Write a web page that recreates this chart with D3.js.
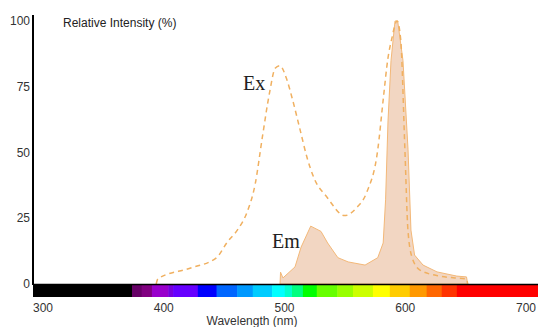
<!DOCTYPE html>
<html lang="en">
	<head>
		<meta charset="utf-8">
		<title>Spectrum</title>
		<script type="text/javascript" src="https://cdn.jsdelivr.net/npm/d3@7"></script>
		<style type="text/css">
			body { margin: 0; background: #fff; }
			text { font-family: "Liberation Sans", Arial, sans-serif; }
		</style>
	</head>
	<body>
		<script type="text/javascript">

		// excitation spectrum (dashed)
		var exWave = [402, 403.5, 430, 452, 461, 470, 477, 484, 490, 496, 500.5, 504.5, 510, 515, 521, 527, 533, 543.5, 558, 568, 576.5, 585.5, 590, 594, 597, 601.5, 604.5, 608, 610.5, 614, 620.5, 637, 649.5, 659, 660];
		var exValue = [0, 2, 6, 10, 16, 21, 27, 38, 56, 73, 82, 83, 78, 70, 59, 48, 40, 33, 26, 29, 35, 51, 70, 86, 93, 100, 93, 51, 20.5, 10, 5.3, 3, 2.3, 1.9, 0];

		// emission spectrum (filled)
		var emWave = [504.6, 505, 507, 517, 522, 530, 538.5, 544, 552.5, 561, 575, 585.5, 590, 592, 594, 596.5, 599.8, 602, 606.4, 610.6, 613, 616, 623, 634.6, 651, 659, 660];
		var emValue = [0, 4.5, 2.3, 6.5, 14, 22, 20, 15.6, 10, 8.4, 7.2, 10, 15.6, 32, 62, 85, 100, 100, 85, 51, 20.5, 11, 7.2, 4.6, 3, 2.7, 0];

		// visible colour bar: band start (nm) and colour
		var bandStart = [300, 382, 390, 398.5, 412, 416, 436.5, 452, 469, 482, 498, 508.5, 514.5, 523.5, 535, 552, 565, 581.5, 595.5, 612, 626, 638.5, 651];
		var bandColor = ["#000000", "#660066", "#800080", "#9900cc", "#7700dd", "#6600ff", "#0000ff", "#0066ff", "#0099ff", "#00ccff", "#00ffff", "#00ffcc", "#00ff80", "#00ff00", "#66ff00", "#99ff00", "#ccff00", "#ffff00", "#ffcc00", "#ff9900", "#ff6600", "#ff3300", "#ff0000"];

		var xTicks = [300, 400, 500, 600, 700];
		var yTicks = [0, 25, 50, 75, 100];

		var w = 538;
		var h = 327;

		var x = d3.scaleLinear().domain([300, 700]).range([33, 516]);
		var y = d3.scaleLinear().domain([0, 100]).range([284, 21]);

		var svg = d3.select("body")
					.append("svg")
					.attr("width", w)
					.attr("height", h);

		// colour bar
		var bands = bandStart.map(function(s, i) {
			return { start: s, end: i < bandStart.length - 1 ? bandStart[i + 1] : x.invert(w), color: bandColor[i] };
		});
		svg.selectAll("rect.band")
			.data(bands)
			.enter()
			.append("rect")
			.attr("class", "band")
			.attr("x", function(d) { return x(d.start); })
			.attr("width", function(d) { return x(d.end) - x(d.start) + 0.5; })
			.attr("y", 285)
			.attr("height", 12)
			.attr("fill", function(d) { return d.color; });

		// emission area
		var em = emWave.map(function(d, i) { return [d, emValue[i]]; });
		var area = d3.area()
					.x(function(d) { return x(d[0]); })
					.y0(y(0))
					.y1(function(d) { return y(d[1]); });
		svg.append("path")
			.datum(em)
			.attr("d", area)
			.attr("fill", "#f2d6c2")
			.attr("stroke", "#f3b878")
			.attr("stroke-width", 1);

		// excitation line
		var ex = exWave.map(function(d, i) { return [d, exValue[i]]; });
		var line = d3.line()
					.x(function(d) { return x(d[0]); })
					.y(function(d) { return y(d[1]); })
					.curve(d3.curveMonotoneX);
		svg.append("path")
			.datum(ex)
			.attr("d", line)
			.attr("fill", "none")
			.attr("stroke", "#f0b060")
			.attr("stroke-width", 1.5)
			.attr("stroke-dasharray", "5,4");

		// axes lines
		svg.append("line")
			.attr("x1", 33).attr("x2", w)
			.attr("y1", 284.5).attr("y2", 284.5)
			.attr("stroke", "#000").attr("stroke-width", 1.5);
		svg.append("line")
			.attr("x1", 33).attr("x2", 33)
			.attr("y1", 15).attr("y2", 285)
			.attr("stroke", "#000").attr("stroke-width", 2);

		// tick labels
		svg.selectAll("text.xt")
			.data(xTicks)
			.enter()
			.append("text")
			.attr("class", "xt")
			.attr("x", function(d) { return x(d); })
			.attr("y", 312)
			.attr("font-size", 12)
			.attr("fill", "#333")
			.text(function(d) { return d; });

		svg.selectAll("text.yt")
			.data(yTicks)
			.enter()
			.append("text")
			.attr("class", "yt")
			.attr("x", 30)
			.attr("y", function(d) { return y(d) + 4; })
			.attr("text-anchor", "end")
			.attr("font-size", 12)
			.attr("fill", "#333")
			.text(function(d) { return d; });

		svg.append("text")
			.attr("x", 63).attr("y", 27)
			.attr("font-size", 12)
			.attr("fill", "#222")
			.text("Relative Intensity (%)");

		svg.append("text")
			.attr("x", 252).attr("y", 325)
			.attr("text-anchor", "middle")
			.attr("font-size", 12)
			.attr("fill", "#333")
			.text("Wavelength (nm)");

		// series labels
		svg.append("text")
			.attr("x", 243).attr("y", 90)
			.style("font-family", "'Liberation Serif', 'Times New Roman', serif")
			.attr("font-size", 20)
			.attr("fill", "#222")
			.text("Ex");
		svg.append("text")
			.attr("x", 272).attr("y", 248)
			.style("font-family", "'Liberation Serif', 'Times New Roman', serif")
			.attr("font-size", 20)
			.attr("fill", "#222")
			.text("Em");

		</script>
	</body>
</html>
